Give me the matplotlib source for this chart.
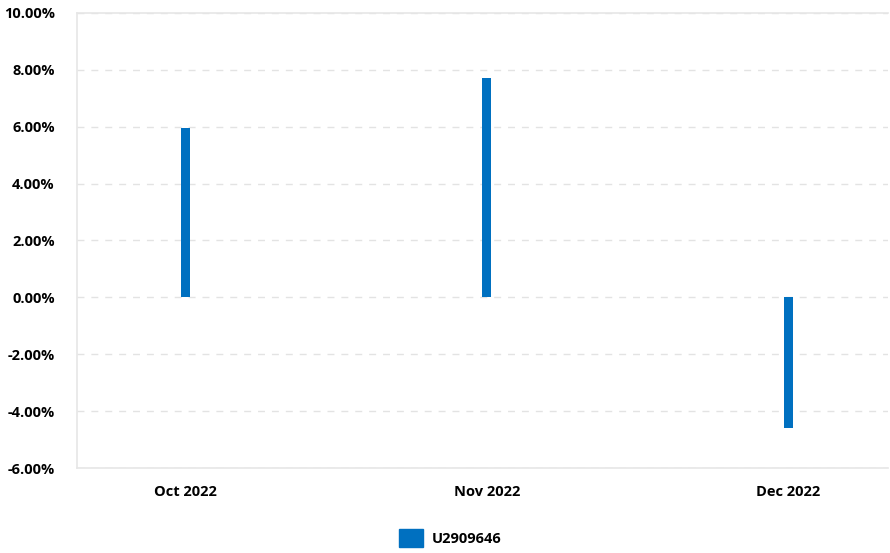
import matplotlib.pyplot as plt
from matplotlib.ticker import FuncFormatter

# datos
meses = ['Oct 2022', 'Nov 2022', 'Dec 2022']
retornos = [5.94, 7.73, -4.60]
serie = 'U2909646'
azul = '#0070C0'

plt.rcParams['font.family'] = ['Open Sans', 'DejaVu Sans']

fig = plt.figure(figsize=(8.9, 5.53), dpi=100)
ax = fig.add_axes([0.0865, 0.1537, 0.911, 0.8228])

x = range(len(meses))
ax.bar(x, retornos, width=0.03, color=azul, label=serie, zorder=3)

ax.set_xlim(-0.36, 2.33)
ax.set_ylim(-6, 10)
ax.set_yticks(range(-6, 11, 2))
ax.yaxis.set_major_formatter(FuncFormatter(lambda v, p: f'{v:.2f}%'))
ax.set_xticks(list(x))
ax.set_xticklabels(meses)

ax.grid(axis='y', color='#e3e3e3', linestyle=(0, (5, 5)), linewidth=1, zorder=0)
for lado in ['left', 'bottom', 'top']:
    ax.spines[lado].set_color('#e6e6e6')
    ax.spines[lado].set_linewidth(1.2)
ax.spines['right'].set_visible(False)

ax.tick_params(axis='both', length=0, labelsize=10.5, labelcolor='black')
ax.tick_params(axis='y', pad=16)
ax.tick_params(axis='x', pad=12)
for t in ax.get_xticklabels() + ax.get_yticklabels():
    t.set_fontweight('bold')

fig.legend(handles=[plt.Rectangle((0, 0), 1, 1, color=azul)], labels=[serie],
           loc='center', bbox_to_anchor=(0.506, 0.027), frameon=False,
           handlelength=1.6, handleheight=1.6, handletextpad=0.6,
           prop={'weight': 'bold', 'size': 10.5})

fig.savefig('out.png', dpi=100)
